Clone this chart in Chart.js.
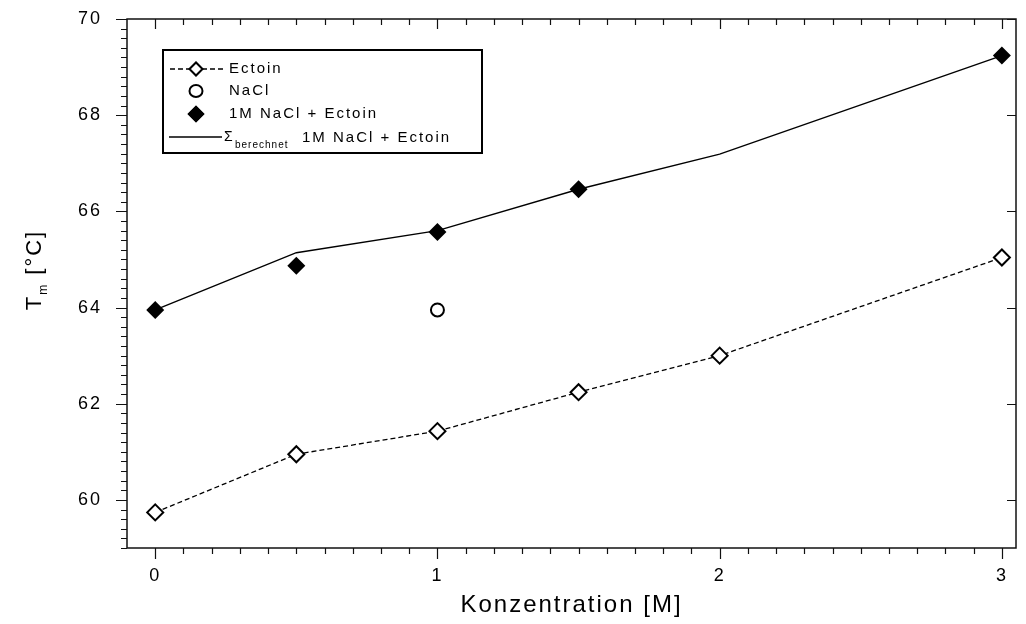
<!DOCTYPE html>
<html>
<head>
<meta charset="utf-8">
<script src="https://cdn.jsdelivr.net/npm/chart.js@4.4.1/dist/chart.umd.min.js"></script>
<style>
  html, body { margin: 0; padding: 0; background: #fff; }
  canvas { display: block; }
</style>
</head>
<body>
<canvas id="meltChart" width="1026" height="624"></canvas>
<script>
// Messwerte (Konzentration in M, Tm in °C)
const ectoinX = [0, 0.5, 1, 1.5, 2, 3];
const ectoinY = [59.74, 60.95, 61.43, 62.24, 63.0, 65.04];
const naclX = [1];
const naclY = [63.95];
const mixX = [0, 0.5, 1, 1.5, 3];
const mixY = [63.95, 64.87, 65.57, 66.46, 69.24];
const calcX = [0, 0.5, 1, 1.5, 2, 3];
const calcY = [63.95, 65.14, 65.6, 66.46, 67.19, 69.24];
const xTickLabels = [0, 1, 2, 3];
const yTickLabels = [60, 62, 64, 66, 68, 70];

const FONT = "'Liberation Sans', Arial, sans-serif";
const toPoints = (xs, ys) => xs.map((x, i) => ({ x: x, y: ys[i] }));

// keine automatische Randzugabe der Achsen, Rand kommt aus layout.padding
function fixScale(scale, size) {
    if (scale.isHorizontal()) scale.height = size; else scale.width = size;
    scale.paddingTop = 0;
    scale.paddingBottom = 0;
    scale.paddingLeft = 0;
    scale.paddingRight = 0;
}

// Achsen-Striche, Rahmen, Legende und y-Titel von Hand
const decoPlugin = {
    id: 'deco',
    beforeUpdate(chart) { chart.ctx.letterSpacing = '2px'; },
    beforeDraw(chart) { chart.ctx.letterSpacing = '2px'; },
    afterDraw(chart) {
        const ctx = chart.ctx;
        const { left, right, top, bottom } = chart.chartArea;
        const xs = chart.scales.x, ys = chart.scales.y;
        ctx.save();
        ctx.strokeStyle = '#111';
        ctx.lineWidth = 1.5;
        ctx.strokeRect(left, top, right - left, bottom - top);

        ctx.lineWidth = 1.2;
        ctx.beginPath();
        for (let i = 0; i <= 30; i++) {
            const v = i / 10;
            const px = Math.round(xs.getPixelForValue(v)) + 0.5;
            const major = i % 10 === 0;
            ctx.moveTo(px, bottom); ctx.lineTo(px, bottom + (major ? 11 : 6));
            ctx.moveTo(px, top); ctx.lineTo(px, top + (major ? 10 : 6));
        }
        for (let i = 0; i <= 55; i++) {
            const v = 59 + i * 0.2;
            const py = Math.round(ys.getPixelForValue(v)) + 0.5;
            const major = i % 10 === 5;
            ctx.moveTo(left, py); ctx.lineTo(left - (major ? 11 : 6), py);
            if (major) { ctx.moveTo(right, py); ctx.lineTo(right - 9, py); }
        }
        ctx.stroke();

        // y-Achsentitel mit Index
        ctx.fillStyle = '#000';
        ctx.translate(41, 270);
        ctx.rotate(-Math.PI / 2);
        ctx.textBaseline = 'alphabetic';
        ctx.font = '22px ' + FONT;
        const wT = ctx.measureText('T').width;
        ctx.font = '12px ' + FONT;
        const wm = ctx.measureText('m').width;
        ctx.font = '22px ' + FONT;
        const wRest = ctx.measureText(' [°C]').width;
        let cx = -(wT + wm + wRest) / 2;
        ctx.fillText('T', cx, 0); cx += wT;
        ctx.font = '12px ' + FONT;
        ctx.fillText('m', cx, 6); cx += wm;
        ctx.font = '22px ' + FONT;
        ctx.fillText(' [°C]', cx, 0);
        ctx.restore();

        // Legende
        ctx.save();
        const ds = chart.data.datasets;
        ctx.strokeStyle = '#000';
        ctx.lineWidth = 2;
        ctx.strokeRect(163, 50, 319, 103);
        const symX = 196, textX = 229;
        const rows = [69, 91, 114, 137];
        ctx.font = '15px ' + FONT;
        ctx.textBaseline = 'middle';
        ctx.fillStyle = '#000';

        // Ectoin: gestrichelte Linie + Raute
        ctx.lineWidth = ds[0].borderWidth;
        ctx.setLineDash(ds[0].borderDash);
        ctx.beginPath(); ctx.moveTo(170, rows[0]); ctx.lineTo(223, rows[0]); ctx.stroke();
        ctx.setLineDash([]);
        Chart.helpers.drawPoint(ctx, { pointStyle: ds[0].pointStyle, radius: 6.5, borderWidth: 2 }, symX, rows[0]);
        ctx.fillStyle = '#fff'; ctx.fill(); ctx.lineWidth = 2; ctx.stroke();
        ctx.fillStyle = '#000';
        ctx.fillText(ds[0].label, textX, rows[0]);

        // NaCl: Kreis
        ctx.beginPath();
        ctx.ellipse(symX, rows[1], 6.5, 6, 0, 0, Math.PI * 2);
        ctx.lineWidth = 2; ctx.stroke();
        ctx.fillText(ds[1].label, textX, rows[1]);

        // 1M NaCl + Ectoin: gefuellte Raute
        ctx.beginPath();
        Chart.helpers.drawPoint(ctx, { pointStyle: 'rectRot', radius: 8.5, borderWidth: 0 }, symX, rows[2]);
        ctx.fill();
        ctx.fillText(ds[2].label, textX, rows[2]);

        // berechnete Summe: Linie + Sigma mit Index
        ctx.lineWidth = 1.3;
        ctx.beginPath(); ctx.moveTo(169, rows[3]); ctx.lineTo(222, rows[3]); ctx.stroke();
        ctx.textBaseline = 'alphabetic';
        ctx.letterSpacing = '0px';
        ctx.font = '14px ' + FONT;
        ctx.fillText('\u03A3', 224, rows[3] + 4);
        ctx.letterSpacing = '1px';
        ctx.font = '10px ' + FONT;
        ctx.fillText('berechnet', 235, rows[3] + 11);
        ctx.letterSpacing = '2px';
        ctx.font = '15px ' + FONT;
        ctx.fillText('1M NaCl + Ectoin', 302, rows[3] + 5);
        ctx.restore();
    }
};

const ctx = document.getElementById('meltChart').getContext('2d');
const meltChart = new Chart(ctx, {
    type: 'scatter',
    data: {
        datasets: [
            {
                label: 'Ectoin',
                data: toPoints(ectoinX, ectoinY),
                showLine: true,
                borderColor: '#000',
                borderWidth: 1.3,
                borderDash: [5, 3],
                pointStyle: 'rectRot',
                pointRadius: 8,
                pointBorderWidth: 2,
                pointBackgroundColor: '#fff',
                pointBorderColor: '#000',
            },
            {
                label: 'NaCl',
                data: toPoints(naclX, naclY),
                pointStyle: 'circle',
                pointRadius: 6.5,
                pointBorderWidth: 2,
                pointBackgroundColor: '#fff',
                pointBorderColor: '#000',
            },
            {
                label: '1M NaCl + Ectoin',
                data: toPoints(mixX, mixY),
                pointStyle: 'rectRot',
                pointRadius: 9,
                pointBorderWidth: 0,
                pointBackgroundColor: '#000',
                pointBorderColor: '#000',
            },
            {
                label: '\u03A3 berechnet 1M NaCl + Ectoin',
                data: toPoints(calcX, calcY),
                showLine: true,
                borderColor: '#000',
                borderWidth: 1.4,
                pointRadius: 0,
            },
        ],
    },
    options: {
        responsive: false,
        animation: false,
        layout: { padding: { top: 19, right: 4, left: 0, bottom: 0 } },
        plugins: {
            legend: { display: false },
            tooltip: { enabled: false },
        },
        scales: {
            x: {
                type: 'linear',
                min: -0.1,
                max: 3.05,
                grid: { display: false, drawTicks: false },
                border: { display: false },
                afterFit: (scale) => fixScale(scale, 76),
                afterBuildTicks: (scale) => { scale.ticks = xTickLabels.map(v => ({ value: v })); },
                ticks: {
                    padding: 17,
                    color: '#000',
                    font: { family: FONT, size: 18 },
                },
                title: {
                    display: true,
                    text: 'Konzentration [M]',
                    color: '#000',
                    font: { family: FONT, size: 24 },
                    padding: { top: 0, bottom: 4 },
                },
            },
            y: {
                min: 59,
                max: 70,
                grid: { display: false, drawTicks: false },
                border: { display: false },
                afterFit: (scale) => fixScale(scale, 127),
                afterBuildTicks: (scale) => { scale.ticks = yTickLabels.map(v => ({ value: v })); },
                ticks: {
                    padding: 25,
                    color: '#000',
                    font: { family: FONT, size: 18 },
                },
            },
        },
    },
    plugins: [decoPlugin],
});
</script>
</body>
</html>
